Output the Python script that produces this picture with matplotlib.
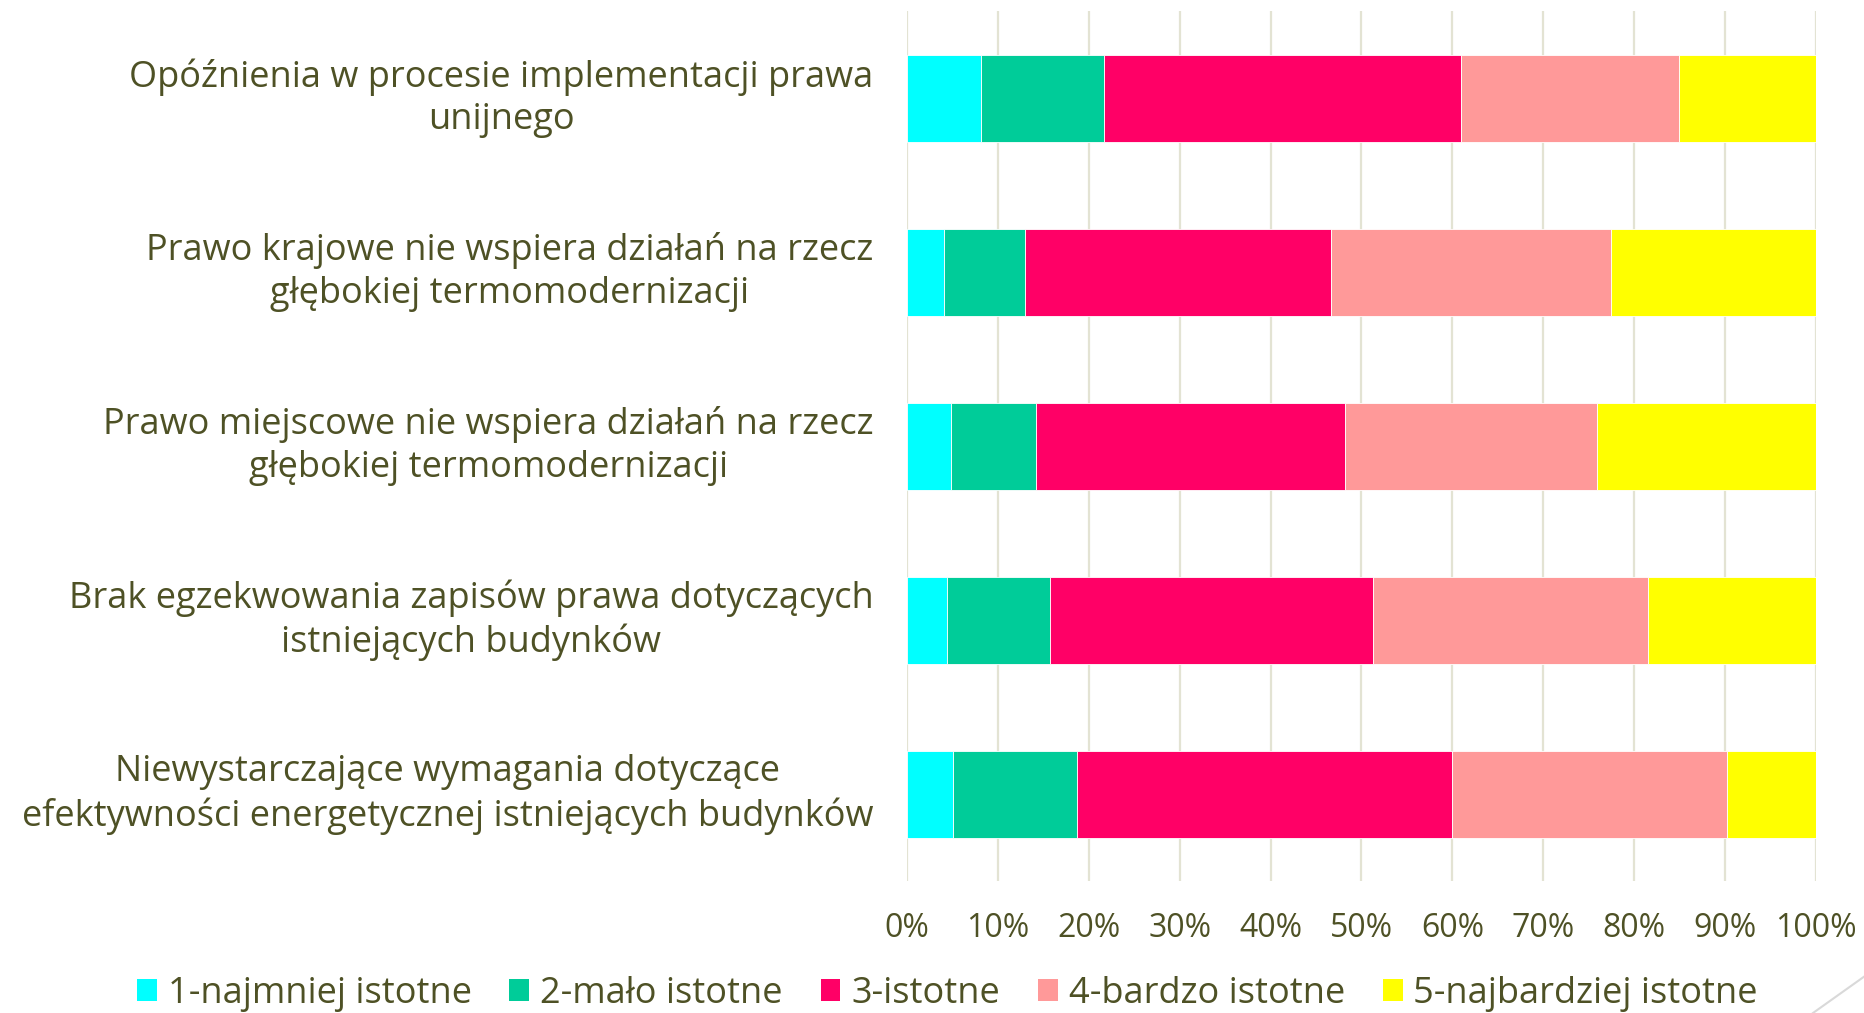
import matplotlib
matplotlib.use("Agg")
import matplotlib.pyplot as plt
from matplotlib.patches import Patch
from matplotlib.lines import Line2D
from matplotlib.ticker import FixedLocator

plt.rcParams['font.family'] = ['Open Sans', 'DejaVu Sans']

categories = [
    "Opóźnienia w procesie implementacji prawa\nunijnego",
    "Prawo krajowe nie wspiera działań na rzecz\ngłębokiej termomodernizacji",
    "Prawo miejscowe nie wspiera działań na rzecz\ngłębokiej termomodernizacji",
    "Brak egzekwowania zapisów prawa dotyczących\nistniejących budynków",
    "Niewystarczające wymagania dotyczące\nefektywności energetycznej istniejących budynków",
]
series_names = ["1-najmniej istotne", "2-mało istotne", "3-istotne",
                "4-bardzo istotne", "5-najbardziej istotne"]
s1 = [8.1, 4.1, 4.8, 4.4, 5.1]
s2 = [13.6, 8.9, 9.4, 11.3, 13.6]
s3 = [39.3, 33.7, 34.0, 35.6, 41.3]
s4 = [23.9, 30.8, 27.7, 30.2, 30.2]
s5 = [15.1, 22.5, 24.1, 18.5, 9.8]
series = [s1, s2, s3, s4, s5]
colors = ["#00FFFF", "#00CC99", "#FF0066", "#FF9999", "#FFFF00"]
xticks = [0, 10, 20, 30, 40, 50, 60, 70, 80, 90, 100]
xticklabels = [f"{t}%" for t in xticks]

text_color = "#4E5125"

fig = plt.figure(figsize=(18.65, 10.13), dpi=100)
ax = fig.add_axes([0.4863, 0.130, 0.4874, 0.859])

ypos = list(range(len(categories)))
left = [0.0] * len(categories)
for vals, col, name in zip(series, colors, series_names):
    ax.barh(ypos, vals, left=left, height=0.5, color=col, label=name,
            edgecolor="white", linewidth=0.6, zorder=3)
    left = [l + v for l, v in zip(left, vals)]

ax.set_xlim(0, 100)
ax.set_ylim(4.5, -0.5)
ax.xaxis.set_major_locator(FixedLocator(xticks))
ax.set_xticklabels(xticklabels)
ax.set_yticks(ypos)
ax.set_yticklabels(categories, ha="right", va="center", multialignment="center",
                   linespacing=1.25)
ax.tick_params(axis="y", length=0, pad=24, labelsize=26, labelcolor=text_color)
ax.tick_params(axis="x", length=0, pad=22, labelsize=23, labelcolor=text_color)
for lab in ax.get_yticklabels():
    lab.set_multialignment("center")

ax.grid(axis="x", color="#E3E3D3", linewidth=1.6, zorder=0)
ax.grid(axis="y", visible=False)
for sp in ax.spines.values():
    sp.set_visible(False)

handles = [Patch(facecolor=c, edgecolor="none") for c in colors]
fig.legend(handles, series_names, loc="center", bbox_to_anchor=(0.508, 0.019),
           ncol=5, frameon=False, fontsize=26, labelcolor=text_color,
           handlelength=0.55, handleheight=0.55, handletextpad=0.3,
           columnspacing=1.05, borderpad=0)

fig.add_artist(Line2D([1813 / 1865, 1.0], [0.0, 1 - 976 / 1013],
                      transform=fig.transFigure, color="#D9D9D9", linewidth=1.5))

fig.savefig("out.png", dpi=100)
